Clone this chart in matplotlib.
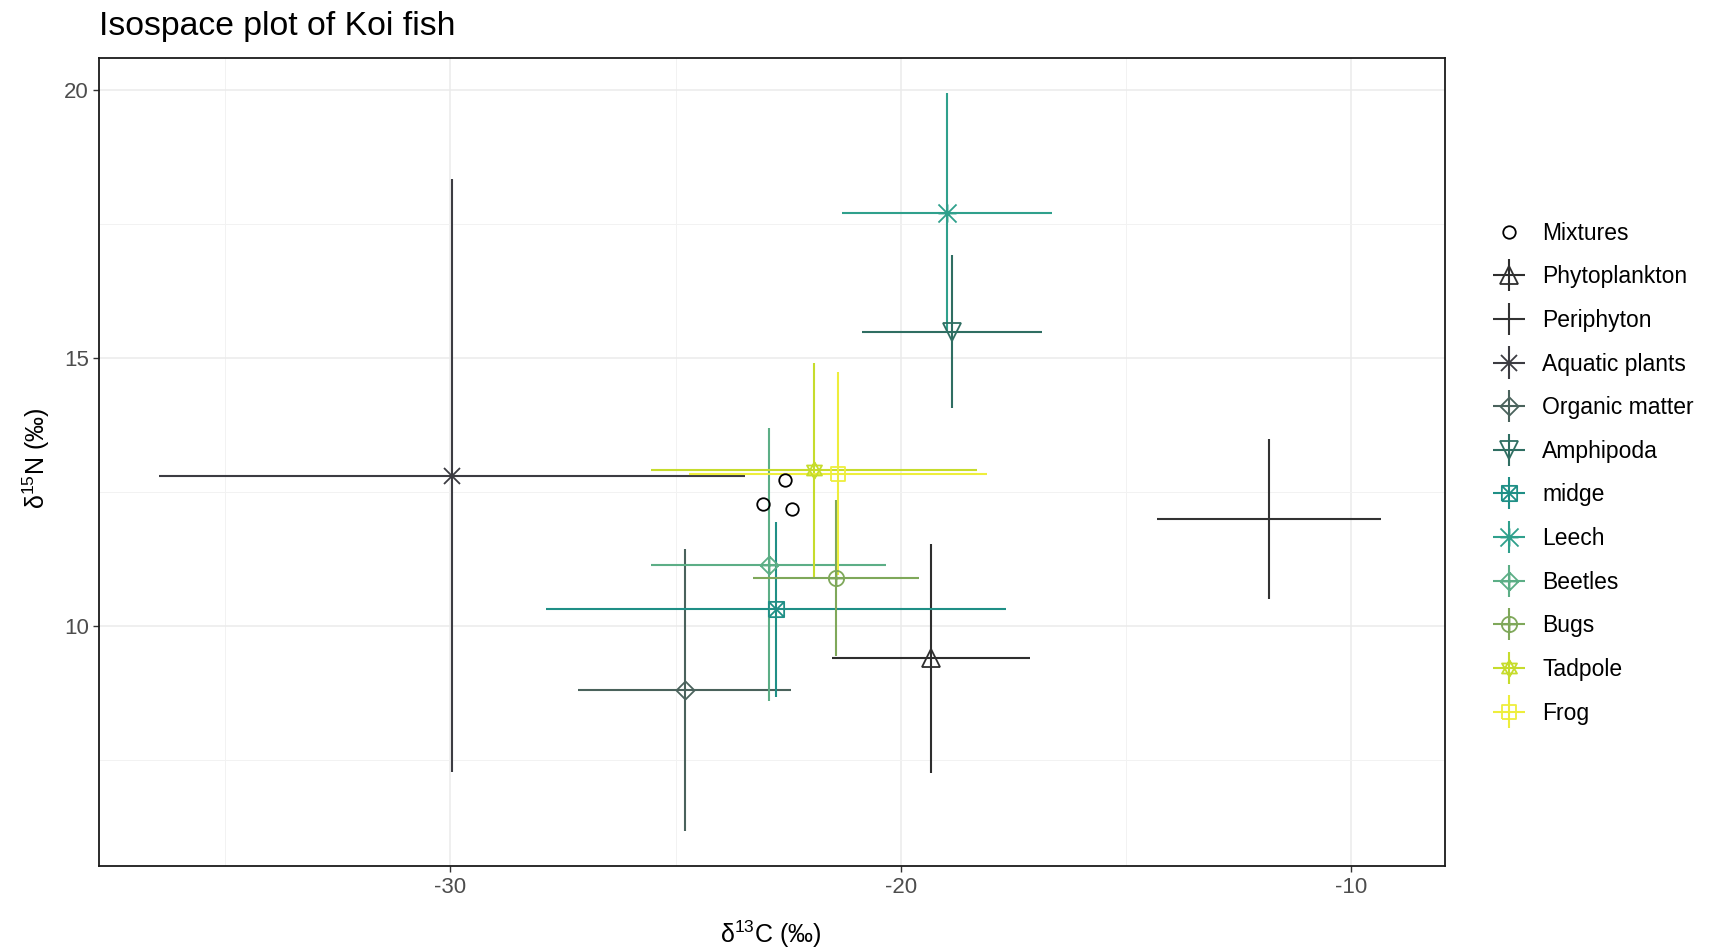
import numpy as np
import matplotlib
matplotlib.use('Agg')
import matplotlib.pyplot as plt
from matplotlib.path import Path
from matplotlib.container import ErrorbarContainer
from matplotlib.legend_handler import HandlerErrorbar

plt.rcParams['font.family'] = ['Liberation Sans', 'DejaVu Sans']
plt.rcParams['mathtext.fontset'] = 'custom'
plt.rcParams['mathtext.rm'] = 'Liberation Sans'
plt.rcParams['mathtext.default'] = 'regular'
plt.rcParams['axes.unicode_minus'] = False

# mixture (consumer) points
mix_d13c = [-22.58, -23.06, -22.41]
mix_d15n = [12.73, 12.28, 12.19]

# source means and SDs
sources = ['Phytoplankton', 'Periphyton', 'Aquatic plants', 'Organic matter', 'Amphipoda',
           'midge', 'Leech', 'Beetles', 'Bugs', 'Tadpole', 'Frog']
d13c_mean = [-19.33, -11.82, -29.96, -24.80, -18.86, -22.77, -18.98, -22.93, -21.44, -21.92, -21.40]
d13c_sd = [2.20, 2.48, 6.51, 2.36, 2.00, 5.11, 2.33, 2.61, 1.85, 3.62, 3.31]
d15n_mean = [9.40, 12.00, 12.81, 8.81, 15.50, 10.32, 17.72, 11.15, 10.90, 12.92, 12.85]
d15n_sd = [2.13, 1.49, 5.53, 2.63, 1.42, 1.63, 2.23, 2.55, 1.46, 2.00, 1.89]

colors = ['#2e2e2e', '#333333', '#3c3c42', '#4a625c', '#2f6e62', '#1f8f86',
          '#2fa08c', '#5cae86', '#7fa85a', '#c6dc2c', '#eeee3c']


# build R-like open shapes (shape 2..12)
def shape(*parts):
    verts, codes = [], []
    for p in parts:
        verts += p
        codes += [Path.MOVETO] + [Path.LINETO] * (len(p) - 1)
    return Path(verts, codes)

sq = [(-1, -1), (1, -1), (1, 1), (-1, 1), (-1, -1)]
dia = [(0, -1), (1, 0), (0, 1), (-1, 0), (0, -1)]
vline = [(0, -1), (0, 1)]
hline = [(-1, 0), (1, 0)]
circ = [(np.cos(t), np.sin(t)) for t in np.linspace(0, 2 * np.pi, 41)]
tri_up = [(0, 1), (-0.9, -0.6), (0.9, -0.6), (0, 1)]
tri_dn = [(0, -1), (-0.9, 0.6), (0.9, 0.6), (0, -1)]
xcross = [[(-1, -1), (1, 1)], [(-1, 1), (1, -1)]]

markers = [
    '^', '+', 'x',
    shape(dia),
    'v',
    shape(sq, *xcross),
    shape(*xcross, vline, hline),
    shape(dia, vline, hline),
    shape(circ, vline, hline),
    shape(tri_up, tri_dn),
    shape(sq, vline, hline),
]
msizes = [13, 14, 11, 13, 13, 11, 13, 13, 11, 12, 10]

fig = plt.figure(figsize=(17.11, 9.5), dpi=100)
ax = fig.add_axes([0.058, 0.088, 0.7864, 0.8512])

handles = []
h = ax.plot(mix_d13c, mix_d15n, linestyle='none', marker='o', ms=9, mfc='none',
            mec='black', mew=1.3, label='Mixtures', zorder=5)[0]
handles.append(h)

for i, src in enumerate(sources):
    c = ax.errorbar([d13c_mean[i]], [d15n_mean[i]], xerr=[d13c_sd[i]], yerr=[d15n_sd[i]],
                    marker=markers[i], linestyle='none', color=colors[i],
                    ms=msizes[i], mfc='none', mec=colors[i], mew=1.3,
                    elinewidth=1.5, capsize=0, label=src, zorder=3 + i * 0.01)
    handles.append(c)

ax.set_xlim(-37.8, -7.92)
ax.set_ylim(5.52, 20.61)
ax.set_xticks([-30, -20, -10])
ax.set_yticks([10, 15, 20])
ax.set_xticks([-35, -25, -15], minor=True)
ax.set_yticks([7.5, 12.5, 17.5], minor=True)
ax.grid(which='major', color='#ebebeb', lw=1.1)
ax.grid(which='minor', color='#f2f2f2', lw=0.7)
ax.set_axisbelow(True)
ax.tick_params(which='major', length=4, width=1, color='#333333',
               labelcolor='#4d4d4d', labelsize=16)
ax.tick_params(which='minor', length=0)
for s in ax.spines.values():
    s.set_color('#1a1a1a')
    s.set_linewidth(1.3)

ax.set_xlabel('δ$^{13}$C (‰)', fontsize=18)
ax.set_ylabel('δ$^{15}$N (‰)', fontsize=18)
ax.xaxis.set_label_coords(0.499, -0.064)
ax.yaxis.set_label_coords(-0.035, 0.505)

fig.text(99 / 1711, 1 - 26.5 / 950, 'Isospace plot of Koi fish', fontsize=24.3,
         ha='left', va='center')

leg = ax.legend(handles=handles, loc='center left', bbox_to_anchor=(0.871, 0.502),
                bbox_transform=fig.transFigure, frameon=False, fontsize=16.5,
                handlelength=1.6, handletextpad=0.67, labelspacing=0.9,
                borderpad=0, borderaxespad=0,
                handler_map={ErrorbarContainer: HandlerErrorbar(xerr_size=0.7)})

fig.savefig('out.png', dpi=100)
